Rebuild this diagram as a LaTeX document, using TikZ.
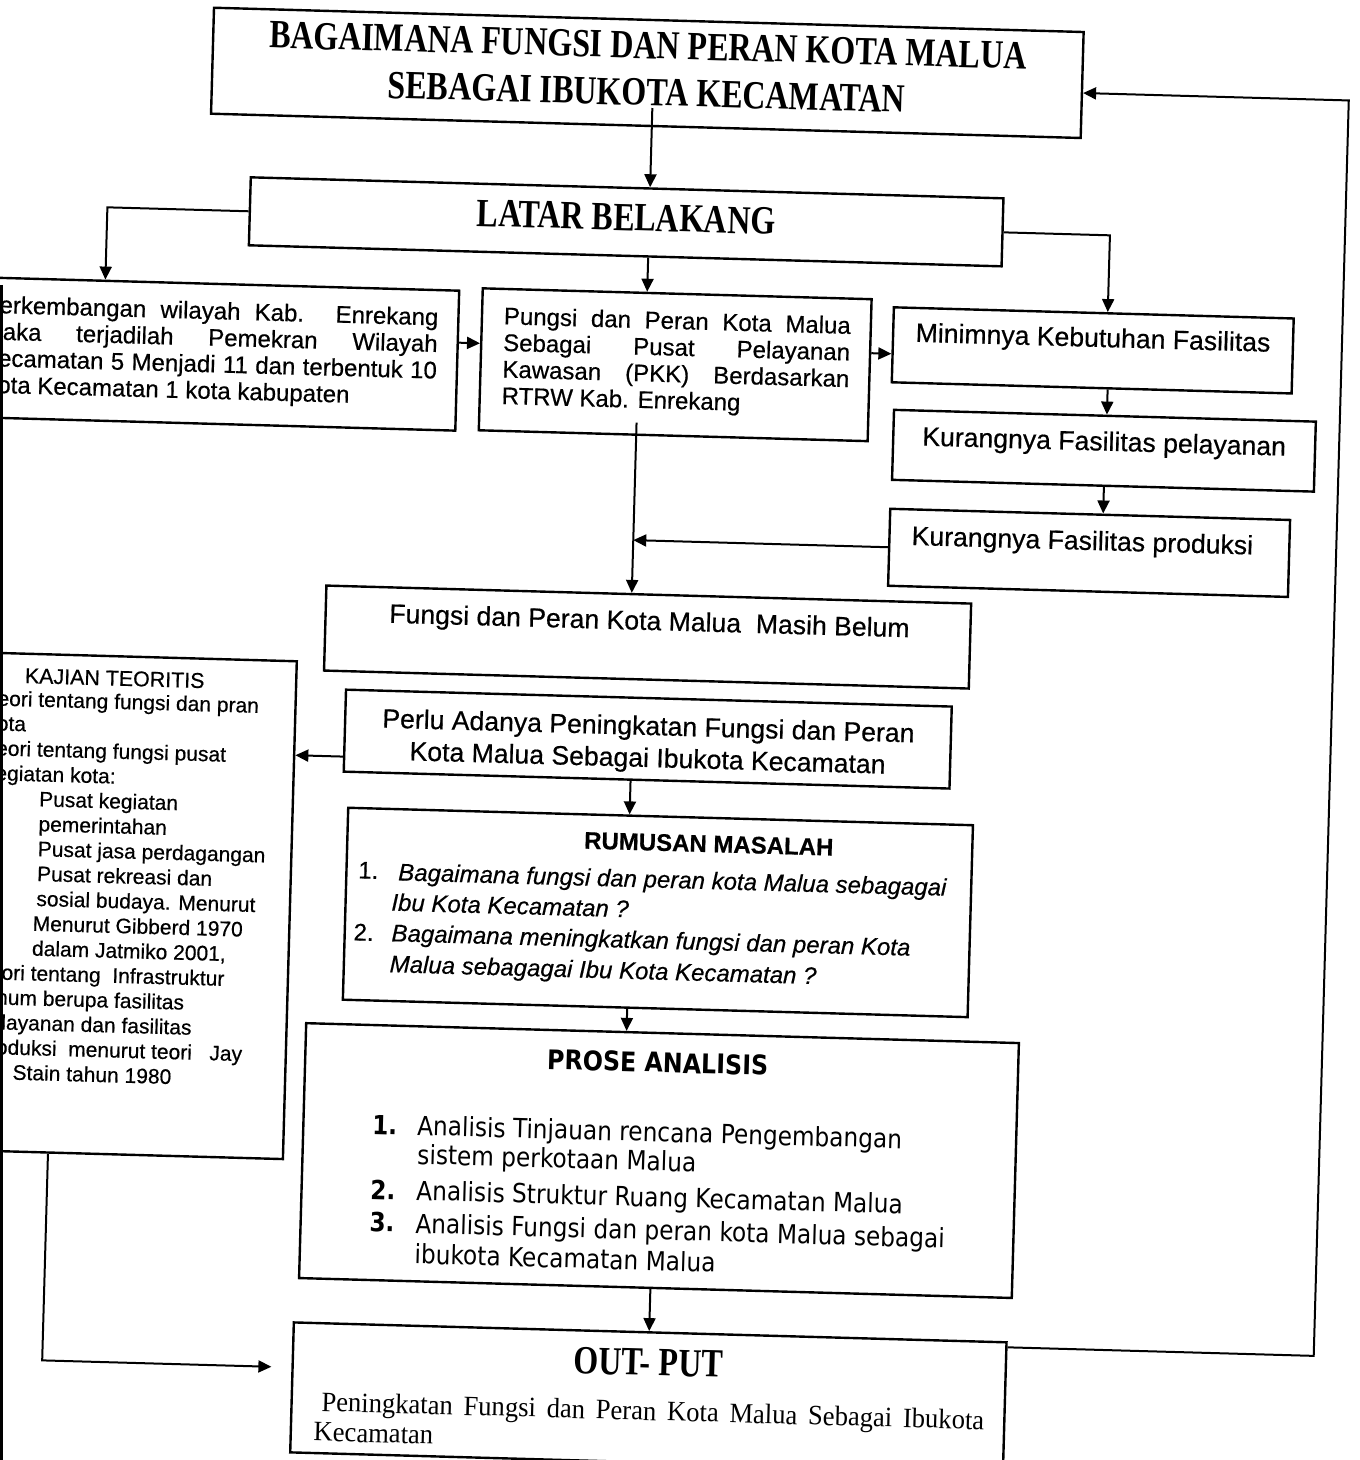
\documentclass[tikz,border=0pt]{standalone}
\usepackage{fontspec}
\setmainfont{Liberation Serif}
\newfontfamily\tfont[FakeStretch=0.8]{Liberation Serif}
\newfontfamily\ofont[FakeStretch=0.95]{Liberation Serif}
\newfontfamily\afont[FakeBold=0.5]{Liberation Sans}
\newfontfamily\pfont[FakeStretch=0.88]{DejaVu Sans}
\usetikzlibrary{arrows.meta}
\hyphenpenalty=10000
\exhyphenpenalty=10000
\tikzset{
  bx/.style={draw, line width=1.2pt, inner sep=0pt},
  arr/.style={line width=1pt, -{Triangle[length=6.5pt,width=6pt]}},
  tt/.style={inner sep=0pt},
  ttl/.style={inner sep=0pt, font=\tfont\bfseries\fontsize{20pt}{23.5pt}\selectfont},
  ar/.style={inner sep=0pt, font=\afont\fontsize{13.3pt}{16pt}\selectfont},
  arsm/.style={inner sep=0pt, font=\afont\fontsize{12pt}{13.3pt}\selectfont},
  ari/.style={inner sep=0pt, anchor=west, font=\afont\itshape\fontsize{12pt}{14pt}\selectfont},
  pr/.style={inner sep=0pt, anchor=west, font=\pfont\fontsize{13.2pt}{15pt}\selectfont},
  prb/.style={inner sep=0pt, anchor=west, font=\pfont\bfseries\fontsize{13.2pt}{15pt}\selectfont},
}
\begin{document}
\begin{tikzpicture}[x=0.5pt,y=-0.5pt]
\useasboundingbox (0,0) rectangle (1359,1460);
\fill[white] (0,0) rectangle (1359,1460);
\clip (0,0) rectangle (1359,1460);
\draw[line width=1.6pt] (1.5,285) -- (1.5,1460);
\begin{scope}[rotate around={-1.6:(680,730)}, transform shape]
% boxes
\node[bx, minimum width=435pt, minimum height=53pt] (title) at (629,74) {};
\node[ttl, align=center] (titlet) at (629,70) {BAGAIMANA FUNGSI DAN PERAN KOTA MALUA\\SEBAGAI IBUKOTA KECAMATAN};

\node[bx, minimum width=376.5pt, minimum height=34pt] (latar) at (612,223.5) {};
\node[ttl] (latart) at (612,219) {LATAR BELAKANG};

\node[bx, minimum width=248.5pt, minimum height=70pt] (leftbox) at (198.5,367) {};
\node[arsm, text width=227.5pt, align=justify] (leftt) at (199.5,366) {Perkembangan wilayah Kab. Enrekang\linebreak maka terjadilah Pemekran Wilayah\linebreak Kecamatan 5 Menjadi 11 dan terbentuk 10\linebreak Kota Kecamatan 1 kota kabupaten};

\node[bx, minimum width=194.5pt, minimum height=71pt] (mid) at (665,365) {};
\node[arsm, text width=173.5pt, align=justify] (midt) at (666,363) {Pungsi dan Peran Kota Malua\linebreak Sebagai Pusat Pelayanan\linebreak Kawasan (PKK) Berdasarkan\linebreak RTRW Kab. Enrekang};

\node[bx, minimum width=200pt, minimum height=37.5pt] (mini) at (1082,339) {};
\node[ar] (minit) at (1082,328.5) {Minimnya Kebutuhan Fasilitas};

\node[bx, minimum width=211pt, minimum height=35pt] (pel) at (1096,439) {};
\node[ar] (pelt) at (1096,432) {Kurangnya Fasilitas pelayanan};

\node[bx, minimum width=200pt, minimum height=38.5pt] (prod) at (1084,541.5) {};
\node[ar] (prodt) at (1077,531.7) {Kurangnya Fasilitas produksi};

\node[bx, minimum width=322.5pt, minimum height=42.5pt] (masih) at (645,638) {};
\node[ar] (masiht) at (646.5,624) {Fungsi dan Peran Kota Malua~ Masih Belum};

\node[bx, minimum width=303pt, minimum height=41pt] (perlu) at (648,740) {};
\node[ar, align=center] (perlut) at (648.4,745) {Perlu Adanya Peningkatan Fungsi dan Peran\\Kota Malua Sebagai Ibukota Kecamatan};

\node[bx, minimum width=150pt, minimum height=249pt] (kajian) at (145,921) {};
\node[tt, font=\afont\fontsize{10.7pt}{12pt}\selectfont] (kajiant) at (113.5,694) {KAJIAN TEORITIS};
\node[tt, anchor=north west, align=left, font=\afont\fontsize{10.5pt}{12.45pt}\selectfont] (kajianb) at (-14,709) {Teori tentang fungsi dan pran\\kota\\Teori tentang fungsi pusat\\kegiatan kota:\\\hspace*{27.5pt}Pusat kegiatan\\\hspace*{27.5pt}pemerintahan\\\hspace*{27.5pt}Pusat jasa perdagangan\\\hspace*{27.5pt}Pusat rekreasi dan\\\hspace*{27.5pt}sosial budaya. Menurut\\\hspace*{26pt}Menurut Gibberd 1970\\\hspace*{26pt}dalam Jatmiko 2001,\\Teori tentang~ Infrastruktur\\umum berupa fasilitas\\pelayanan dan fasilitas\\produksi~ menurut teori~~ Jay\\\hspace*{18pt}Stain tahun 1980};

\node[bx, minimum width=312.5pt, minimum height=96pt] (rumus) at (663,913) {};
\node[tt, font=\afont\bfseries\fontsize{12pt}{14pt}\selectfont] (rumust) at (712,843) {RUMUSAN MASALAH};
\node[ari, font=\afont\fontsize{12pt}{14pt}\selectfont] (r1n) at (362,879) {1.};
\node[ari] (r1a) at (402,882) {Bagaimana fungsi dan peran kota Malua sebagagai};
\node[ari] (r1b) at (396,910) {Ibu Kota Kecamatan ?};
\node[ari, font=\afont\fontsize{12pt}{14pt}\selectfont] (r2n) at (359,941) {2.};
\node[ari] (r2a) at (397,943) {Bagaimana meningkatkan fungsi dan peran Kota};
\node[ari] (r2b) at (396,974) {Malua sebagagai Ibu Kota Kecamatan ?};

\node[bx, minimum width=356.5pt, minimum height=127.5pt] (prose) at (671,1161) {};
\node[tt, font=\pfont\bfseries\fontsize{13.5pt}{15pt}\selectfont] (proset) at (667,1063) {PROSE ANALISIS};
\node[prb] (p1n) at (383,1133) {1.};
\node[pr] (p1a) at (428,1135) {Analisis Tinjauan rencana Pengembangan};
\node[pr] (p1b) at (429,1164) {sistem perkotaan Malua};
\node[prb] (p2n) at (383,1198) {2.};
\node[pr] (p2a) at (429,1200) {Analisis Struktur Ruang Kecamatan Malua};
\node[prb] (p3n) at (383,1230) {3.};
\node[pr] (p3a) at (429,1233) {Analisis Fungsi dan peran kota Malua sebagai};
\node[pr] (p3b) at (429,1261) {ibukota Kecamatan Malua};

\node[bx, minimum width=356.5pt, minimum height=65pt] (out) at (667,1398) {};
\node[ttl] (outt) at (666,1363) {OUT- PUT};
\node[tt, anchor=north west, text width=335pt, align=justify, font=\ofont\fontsize{14pt}{15pt}\selectfont] (outb) at (333,1401) {\hspace*{3.5pt}Peningkatan Fungsi dan Peran Kota Malua Sebagai Ibukota\linebreak Kecamatan};

% connectors
\coordinate (t1) at (635,109);
\draw[arr] (t1) -- (t1 |- latar.north);
\coordinate (c2) at (93,0);
\draw[arr] (latar.west) -| (c2 |- leftbox.north);
\coordinate (c3) at (635,0);
\draw[arr] (c3 |- latar.south) -- (c3 |- mid.north);
\coordinate (c4) at (1096,0);
\draw[arr] (latar.east) -| (c4 |- mini.north);
\coordinate (c5) at (0,349);
\draw[arr] (c5 -| leftbox.east) -- (c5 -| mid.west);
\coordinate (c6) at (0,348);
\draw[arr] (c6 -| mid.east) -- (c6 -| mini.west);
\coordinate (c7) at (1098,0);
\draw[arr] (c7 |- mini.south) -- (c7 |- pel.north);
\coordinate (c8) at (1097,0);
\draw[arr] (c8 |- pel.south) -- (c8 |- prod.north);
\coordinate (c9) at (628,424);
\draw[arr] (c9) -- (c9 |- masih.north);
\draw[arr] (prod.west) -- (c9 |- prod.west);
\coordinate (c11) at (0,766);
\draw[arr] (c11 -| perlu.west) -- (c11 -| kajian.east);
\coordinate (c12) at (632,0);
\draw[arr] (c12 |- perlu.south) -- (c12 |- rumus.north);
\coordinate (c13) at (635,0);
\draw[arr] (c13 |- rumus.south) -- (c13 |- prose.north);
\coordinate (c14) at (666,0);
\draw[arr] (c14 |- prose.south) -- (c14 |- out.north);
\coordinate (c15) at (60,1378);
\draw[arr, shorten >=10pt] (c15 |- kajian.south) -- (c15) -- (c15 -| out.west);
\coordinate (c16) at (1331,1338);
\coordinate (c16b) at (1331,82);
\draw[arr] (c16 -| out.east) -- (c16) -- (c16b) -- (c16b -| title.east);
\end{scope}
\end{tikzpicture}
\end{document}
